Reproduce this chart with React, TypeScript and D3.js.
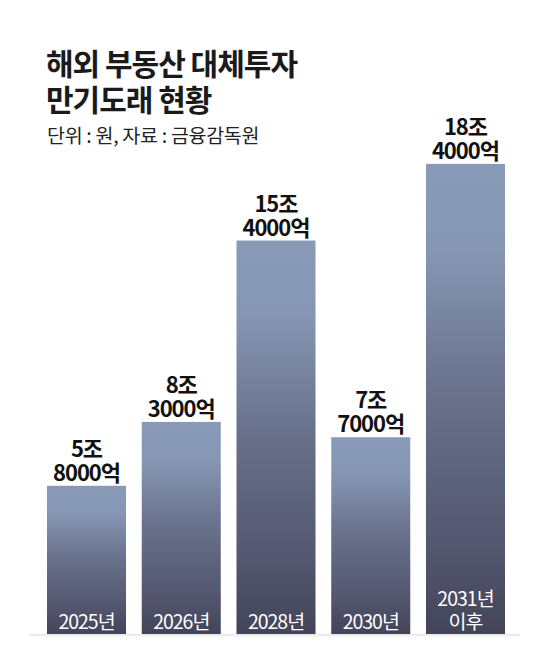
import React from "react";
import * as d3 from "d3";

const categories = ["2025년", "2026년", "2028년", "2030년", "2031년\n이후"];
const values = [5.8, 8.3, 15.4, 7.7, 18.4];
const valueLabels = [
  ["5조", "8000억"],
  ["8조", "3000억"],
  ["15조", "4000억"],
  ["7조", "7000억"],
  ["18조", "4000억"],
];
const titleLines = ["해외 부동산 대체투자", "만기도래 현황"];
const subtitle = "단위 : 원, 자료 : 금융감독원";

const W = 560;
const H = 669;
const FONT = "'Noto Sans CJK KR', 'Noto Sans', sans-serif";

export default function App() {
  const baseY = 634;
  const x = d3
    .scaleBand<number>()
    .domain(d3.range(categories.length))
    .range([47, 505])
    .paddingInner(0.166)
    .paddingOuter(0);
  const y = d3.scaleLinear().domain([0, 20]).range([baseY, baseY - 511]);

  return (
    <div style={{ position: "absolute", left: 0, top: 0 }}>
      <svg width={W} height={H} style={{ display: "block", background: "#fff" }}>
        <defs>
          <linearGradient id="barGrad" x1="0" y1="0" x2="0" y2="1">
            <stop offset="0%" stopColor="#889ab7" />
            <stop offset="18%" stopColor="#8697b4" />
            <stop offset="50%" stopColor="#68708a" />
            <stop offset="80%" stopColor="#545870" />
            <stop offset="100%" stopColor="#434459" />
          </linearGradient>
          <linearGradient id="shadowGrad" x1="0" y1="0" x2="0" y2="1">
            <stop offset="0%" stopColor="#e2e2e2" />
            <stop offset="100%" stopColor="#ffffff" stopOpacity={0} />
          </linearGradient>
        </defs>

        {/* title */}
        <g fontFamily={FONT}>
          {titleLines.map((t, i) => (
            <text
              key={t}
              x={46}
              y={75 + i * 36}
              fontSize={30}
              fontWeight={700}
              letterSpacing={-1}
              fill="#1a1a1a"
            >
              {t}
            </text>
          ))}
          <text x={47} y={143} fontSize={19.5} fontWeight={400} fill="#222" letterSpacing={-0.3}>
            {subtitle}
          </text>
        </g>

        {/* baseline shadow */}
        <rect x={30} y={baseY} width={490} height={5} fill="url(#shadowGrad)" />

        {/* bars */}
        <g fontFamily={FONT}>
          {values.map((v, i) => {
            const bx = x(i)!;
            const bw = x.bandwidth();
            const top = y(v);
            const cx = bx + bw / 2;
            const catLines = categories[i].split("\n");
            return (
              <g key={i}>
                <rect x={bx} y={top} width={bw} height={baseY - top} fill="url(#barGrad)" />
                <text
                  x={cx}
                  textAnchor="middle"
                  fontSize={22}
                  fontWeight={700}
                  letterSpacing={-1}
                  fill="#111"
                >
                  {valueLabels[i].map((l, j) => (
                    <tspan key={j} x={cx} y={top - 29 + j * 24}>
                      {l}
                    </tspan>
                  ))}
                </text>
                <text
                  x={cx}
                  textAnchor="middle"
                  fontSize={19.5}
                  fontWeight={400}
                  letterSpacing={-1}
                  fill="#ffffff"
                >
                  {catLines.map((l, j) => (
                    <tspan key={j} x={cx} y={baseY - 5 - (catLines.length - 1 - j) * 23}>
                      {l}
                    </tspan>
                  ))}
                </text>
              </g>
            );
          })}
        </g>
      </svg>
    </div>
  );
}
